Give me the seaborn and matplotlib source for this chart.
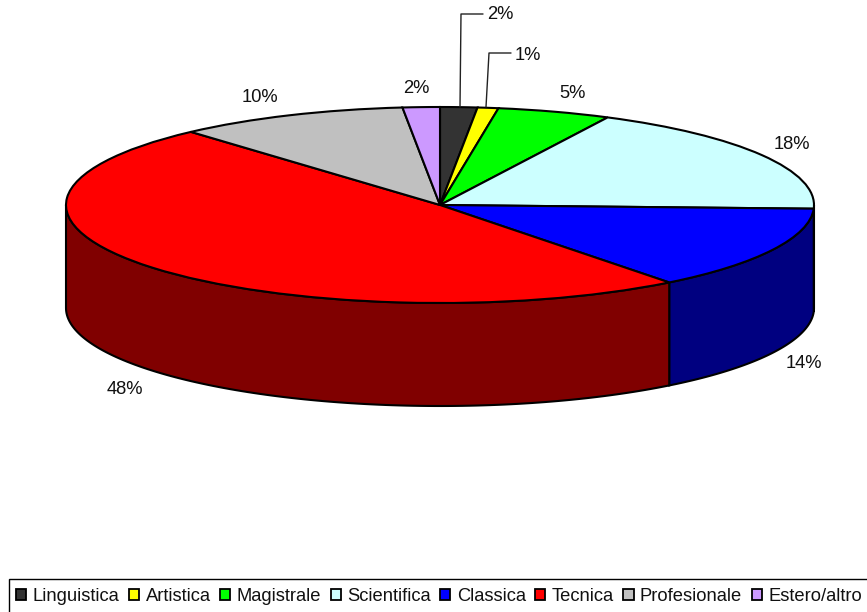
import numpy as np
import matplotlib
matplotlib.use("Agg")
import matplotlib.pyplot as plt
from matplotlib.patches import Patch, Rectangle
import seaborn as sns

categories = ["Linguistica", "Artistica", "Magistrale", "Scientifica", "Classica", "Tecnica", "Profesionale", "Estero/altro"]
values = [1.6, 0.9, 4.9, 18.2, 13.9, 48.9, 10.0, 1.6]
labels = ["2%", "1%", "5%", "18%", "14%", "48%", "10%", "2%"]
colors = ["#333333", "#FFFF00", "#00FF00", "#CCFFFF", "#0000FF", "#FF0000", "#C0C0C0", "#CC99FF"]

sns.set_style("white")
plt.rcParams["font.family"] = ["Liberation Sans", "DejaVu Sans"]
palette = sns.color_palette(colors)

W, H = 867, 612
CX, CY, RX, RY, DEPTH = 440, 205, 374, 98, 103


def px(x, y):
    return (x - CX) / RX, (CY - y) / RY


fig = plt.figure(figsize=(W / 100, H / 100), dpi=100)
ax = fig.add_axes([0, 0, 1, 1])

# side wall, from the same shares as the top of the pie
total = sum(values)
edges = np.concatenate([[0], np.cumsum(values)]) / total * 360
d = DEPTH / RY
for start, end, col in zip(edges[:-1], edges[1:], palette):
    a, b = max(start, 90), min(end, 270)
    if b <= a:
        continue
    t = np.radians(np.linspace(a, b, 120))
    xs, ys = np.sin(t), np.cos(t)
    shade = tuple(c * 0.5 for c in col)
    ax.fill(np.r_[xs, xs[::-1]], np.r_[ys, ys[::-1] - d], facecolor=shade,
            edgecolor="black", lw=1.5, zorder=1)

ax.pie(values, colors=palette, startangle=90, counterclock=False, radius=1,
       wedgeprops=dict(edgecolor="black", linewidth=1.5, zorder=2))
for w in ax.patches:
    w.set_zorder(2)

ax.set_aspect("auto")
ax.set_xlim(*[px(v, 0)[0] for v in (0, W)])
ax.set_ylim(*[px(0, v)[1] for v in (H, 0)])
ax.set_axis_off()

label_px = [(500, 15), (528, 55), (573, 94), (792, 145), (804, 364), (125, 390), (260, 97), (416, 89)]
for txt, (x, y) in zip(labels, label_px):
    ax.text(*px(x, y), txt, ha="center", va="center", fontsize=13.2, color="#111111", zorder=5)

# leader lines
for pts in ([(460, 107), (461, 14), (483, 14)], [(486, 107), (489, 53), (511, 53)]):
    p = np.array([px(*q) for q in pts])
    ax.plot(p[:, 0], p[:, 1], color="#222222", lw=1.0, zorder=4, clip_on=False)

# legend box runs past the right and bottom edges of the picture
fig.add_artist(Rectangle((8.5 / W, -0.02), 1.0, 0.02 + 1 - 578.5 / H, transform=fig.transFigure,
                         facecolor="none", edgecolor="black", linewidth=1.0, zorder=0))

handles = [Patch(facecolor=c, edgecolor="black", linewidth=1.3) for c in palette]
leg = ax.legend(handles, categories, ncol=8, loc="upper left",
                bbox_to_anchor=(8 / W, 1 - 580 / H), bbox_transform=fig.transFigure,
                fontsize=13.2, frameon=False, borderaxespad=0, borderpad=0.45, labelcolor="#111111",
                handlelength=0.55, handleheight=0.55, handletextpad=0.35, columnspacing=0.52)
leg.set_zorder(10)

fig.savefig("out.png", dpi=100)
